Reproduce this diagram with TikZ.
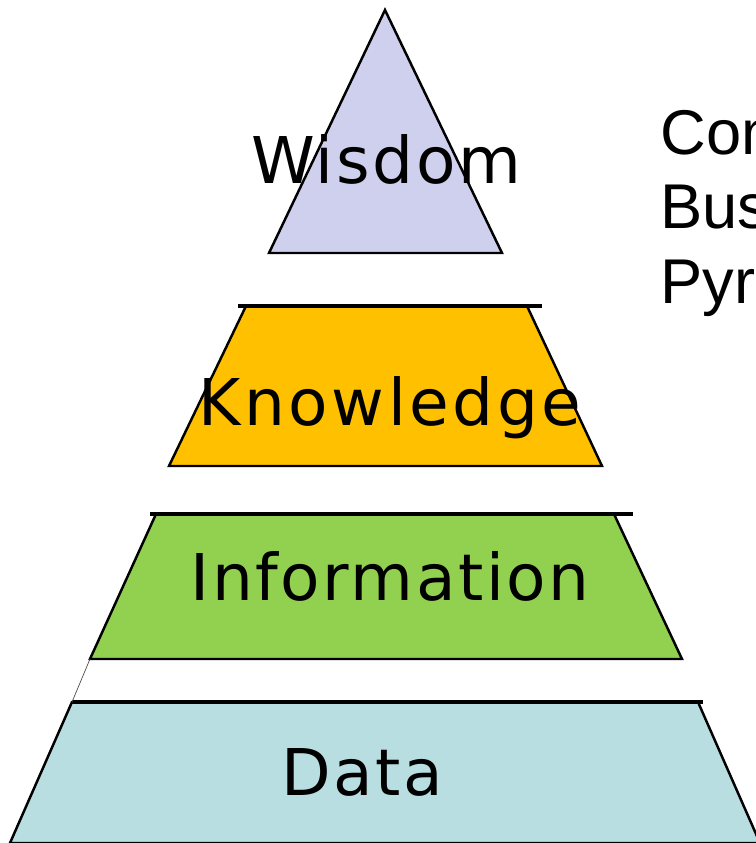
\documentclass[tikz,border=0pt]{standalone}
\usepackage{fontspec}
\setmainfont{DejaVu Sans}
\newfontfamily\layerfont[LetterSpace=4]{DejaVu Sans}
\newfontfamily\titlefont{Liberation Sans}
\usetikzlibrary{positioning}
\definecolor{wisdomfill}{RGB}{207,207,238}
\definecolor{knowfill}{RGB}{255,192,0}
\definecolor{infofill}{RGB}{146,208,80}
\definecolor{datafill}{RGB}{184,222,226}

\begin{document}
\begin{tikzpicture}[
    x=0.02cm, y=-0.02cm,
    layer/.style={draw, line width=1.4pt},
    rim/.style={line width=1.8pt},
    label/.style={font=\layerfont\fontsize{36.7}{44}\selectfont, anchor=base, inner sep=0pt},
    title/.style={font=\titlefont\fontsize{36}{43}\selectfont, anchor=base west, inner sep=0pt}
]
    \useasboundingbox (0,0) rectangle (756,843);

    % Layers
    \draw[layer, fill=wisdomfill] (385,10) -- (502,253) -- (269,253) -- cycle;
    \draw[layer, fill=knowfill] (246,306) -- (527,306) -- (602,466) -- (169,466) -- cycle;
    \draw[rim] (238,306) -- (542,306);
    \draw[layer, fill=infofill] (156,514) -- (614,514) -- (682,659) -- (90,659) -- cycle;
    \draw[rim] (150,514) -- (633,514);
    \draw[layer, fill=datafill] (72,702) -- (698,702) -- (760,843) -- (10,843) -- cycle;
    \draw[rim] (72,702) -- (703,702);

    % Corner link
    \coordinate (info-bl) at (90,659);
    \coordinate (data-tl) at (72,702);
    \draw[line width=0.4pt, black!70] (info-bl) -- (data-tl);

    % Labels
    \node[label] (wisdom) 	at (386,183) 	{Wisdom};
    \node[label] (knowledge) 	at (390,425) 	{\addfontfeature{LetterSpace=5.5}Knowledge};
    \node[label] (information) 	at (390,600) 	{Information};
    \node[label] (data) 		at (362,795) 	{Data};

    % Title
    \node[title] (title1) at (660,154) {Com};
    \node[title] (title2) at (660,228) {Bus};
    \node[title] (title3) at (660,303) {Pyr};
\end{tikzpicture}
\end{document}
